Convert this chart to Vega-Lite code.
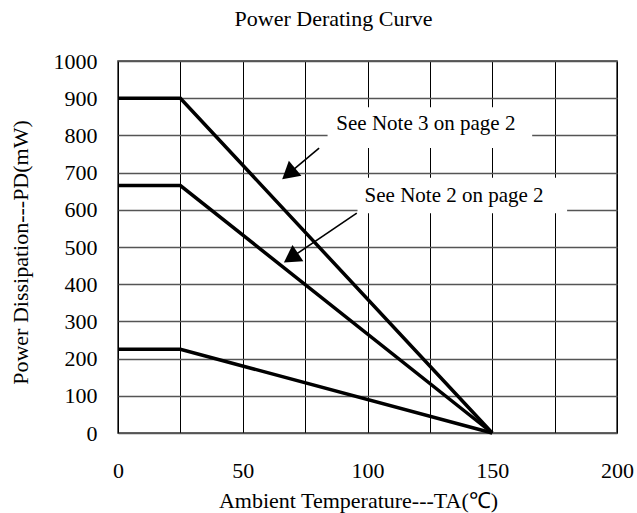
{
  "$schema": "https://vega.github.io/schema/vega-lite/v6.json",
  "width": 499,
  "height": 372,
  "autosize": "none",
  "padding": {"left": 118, "top": 61, "right": 20, "bottom": 80},
  "background": "white",
  "config": {
    "font": "Liberation Serif",
    "view": {"stroke": "#333", "strokeWidth": 1.5}
  },
  "title": {
    "text": "Power Derating Curve",
    "fontSize": 22,
    "fontWeight": "normal",
    "font": "Liberation Serif",
    "color": "#000",
    "frame": "group",
    "anchor": "middle",
    "dx": -34,
    "offset": 19
  },
  "datasets": {
    "lines": [
      {"series": "a", "x": 0, "y": 900},
      {"series": "a", "x": 25, "y": 900},
      {"series": "a", "x": 150, "y": 0},
      {"series": "b", "x": 0, "y": 665},
      {"series": "b", "x": 25, "y": 665},
      {"series": "b", "x": 150, "y": 0},
      {"series": "c", "x": 0, "y": 225},
      {"series": "c", "x": 25, "y": 225},
      {"series": "c", "x": 150, "y": 0}
    ],
    "boxes": [
      {"x": 84, "x2": 166, "y": 766, "y2": 876},
      {"x": 96, "x2": 180, "y": 591, "y2": 686}
    ],
    "arrows": [
      {"x": 80.6, "y": 766, "x2": 68.4, "y2": 697},
      {"x": 95.7, "y": 591, "x2": 69.3, "y2": 471}
    ],
    "heads": [
      {"x": 68.4, "y": 697, "angle": 230},
      {"x": 69.3, "y": 471, "angle": 236}
    ],
    "notes": [
      {"x": 123.4, "y": 831, "label": "See Note 3 on page 2"},
      {"x": 134.7, "y": 638, "label": "See Note 2 on page 2"}
    ]
  },
  "encoding": {
    "x": {
      "field": "x",
      "type": "quantitative",
      "scale": {"domain": [0, 200], "nice": false, "zero": false},
      "axis": {
        "values": [0, 25, 50, 75, 100, 125, 150, 175, 200],
        "labelExpr": "datum.value % 50 === 0 ? datum.label : ''",
        "grid": true,
        "gridColor": "#000",
        "gridWidth": 1,
        "gridOpacity": 1,
        "ticks": false,
        "domain": false,
        "labelFont": "Liberation Serif",
        "labelFontSize": 22,
        "labelColor": "#000",
        "labelBaseline": "alphabetic",
        "labelPadding": 44,
        "labelFlush": false,
        "labelOverlap": false,
        "title": "Ambient Temperature---TA(℃)",
        "titleFont": "Liberation Serif",
        "titleFontSize": 22,
        "titleFontWeight": "normal",
        "titleColor": "#000",
        "titleBaseline": "alphabetic",
        "titleX": 240,
        "titleY": 74,
        "titleAlign": "center"
      }
    },
    "y": {
      "field": "y",
      "type": "quantitative",
      "scale": {"domain": [0, 1000], "nice": false},
      "axis": {
        "values": [0, 100, 200, 300, 400, 500, 600, 700, 800, 900, 1000],
        "format": "d",
        "grid": true,
        "gridColor": "#555",
        "gridWidth": 1.3,
        "gridOpacity": 1,
        "ticks": false,
        "domain": false,
        "labelFont": "Liberation Serif",
        "labelFontSize": 22,
        "labelColor": "#000",
        "labelPadding": 21,
        "labelBaseline": "middle",
        "labelFlush": false,
        "labelOverlap": false,
        "title": "Power Dissipation---PD(mW)",
        "titleFont": "Liberation Serif",
        "titleFontSize": 22,
        "titleFontWeight": "normal",
        "titleColor": "#000",
        "titleAngle": -90,
        "titleBaseline": "middle",
        "titleAlign": "center",
        "titleX": -98,
        "titleY": 191
      }
    }
  },
  "layer": [
    {
      "data": {"name": "boxes"},
      "mark": {"type": "rect", "fill": "white", "stroke": null},
      "encoding": {
        "x2": {"field": "x2"},
        "y2": {"field": "y2"}
      }
    },
    {
      "data": {"name": "lines"},
      "mark": {"type": "line", "color": "#000", "strokeWidth": 3.5},
      "encoding": {
        "detail": {"field": "series", "type": "nominal"}
      }
    },
    {
      "data": {"name": "arrows"},
      "mark": {"type": "rule", "color": "#000", "strokeWidth": 1.6},
      "encoding": {
        "x2": {"field": "x2"},
        "y2": {"field": "y2"}
      }
    },
    {
      "data": {"name": "heads"},
      "mark": {"type": "point", "shape": "triangle-up", "filled": true, "color": "#000", "size": 380, "opacity": 1},
      "encoding": {
        "angle": {"field": "angle", "type": "quantitative", "scale": null}
      }
    },
    {
      "data": {"name": "notes"},
      "mark": {"type": "text", "font": "Liberation Serif", "fontSize": 21, "color": "#000", "align": "center", "baseline": "middle"},
      "encoding": {
        "text": {"field": "label", "type": "nominal"}
      }
    }
  ]
}
